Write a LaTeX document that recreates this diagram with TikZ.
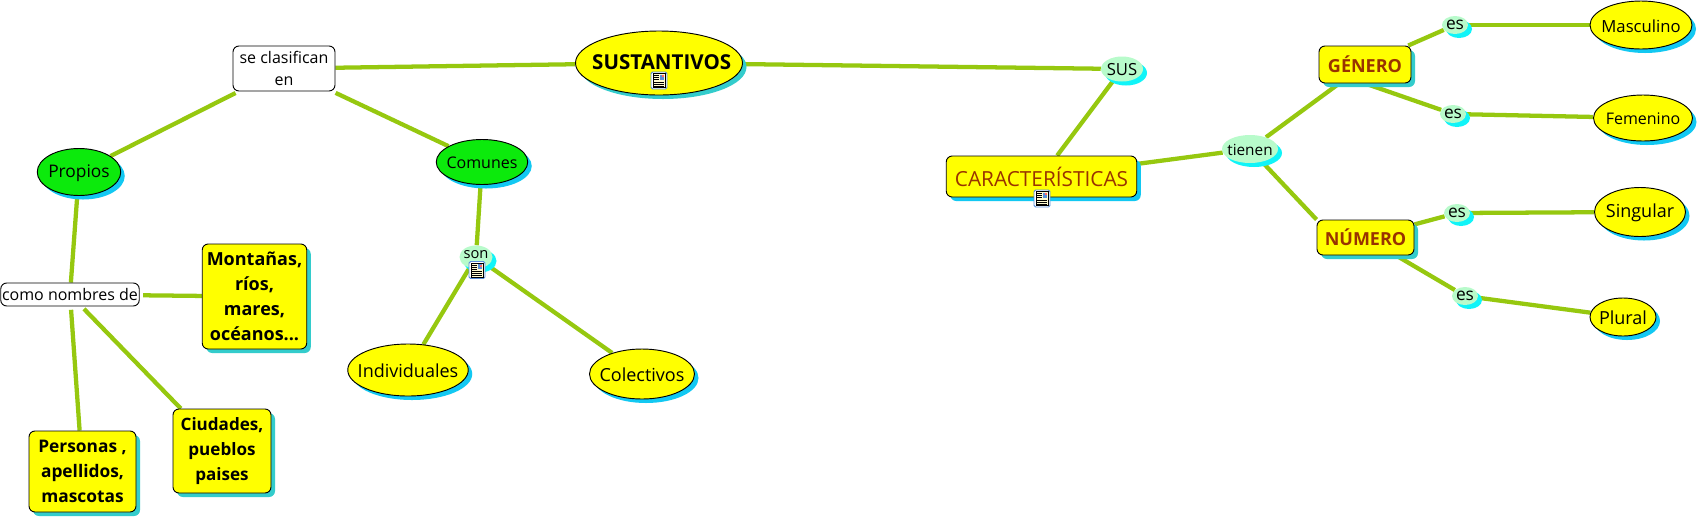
\documentclass[tikz,border=0pt]{standalone}
\usepackage{fontspec}
\setmainfont{Open Sans}
\usetikzlibrary{shapes.geometric,shadows}
\pgfdeclarelayer{bg}
\pgfsetlayers{bg,main}
\definecolor{linkgreen}{HTML}{96C80F}
\definecolor{conceptgreen}{HTML}{0CEA0C}
\definecolor{pureyellow}{HTML}{FFFF00}
\definecolor{linkerfill}{HTML}{B8FBCB}
\definecolor{shblue}{HTML}{12C8F2}
\definecolor{shteal}{HTML}{33CCCC}
\definecolor{shcyan}{HTML}{10F4F8}
\definecolor{brownish}{HTML}{993300}
\definecolor{iconblue}{HTML}{5A8FD8}
\definecolor{iconcream}{HTML}{FFFBD0}
\tikzset{
  sz/.style 2 args={minimum width=#1*0.75pt,minimum height=#2*0.75pt},
  shad/.style={general shadow={fill=#1,shadow xshift=3pt,shadow yshift=-3pt}},
  fs/.style={font=\fontsize{#1}{18.75}\selectfont},
  fsb/.style={font=\fontsize{#1}{18.75}\selectfont\bfseries},
  txt/.style={fs=13.5,inner sep=0pt,align=center},
  lab/.style={txt,yshift=-0.7pt},
  btxt/.style={fsb=13.5,inner sep=0pt,align=center},
  ell/.style={ellipse,draw=black,line width=0.7pt,inner sep=0pt,fill=pureyellow},
  linker/.style={ellipse,inner sep=0pt,fill=linkerfill,shad=shcyan},
  box/.style={rectangle,rounded corners=4.5pt,draw=black,line width=0.7pt,inner sep=0pt,fill=pureyellow},
  phrase/.style={rectangle,rounded corners=4.5pt,draw=black,line width=0.7pt,inner sep=0pt,fill=white,align=center,font=\fontsize{12}{16.5}\selectfont},
  conn/.style={draw=linkgreen,line width=3.2pt},
  gapstart/.style={shorten <=2.5pt},
  noteicon/.pic={
    \draw[draw=iconblue,fill=white,line width=0.7pt,rounded corners=1.2pt] (-8,-8.5) rectangle (8,8.5);
    \fill[iconcream] (-6,-7) rectangle (6,7);
    \draw[black,line width=0.4pt] (-6,-7) rectangle (6,7);
    \fill[iconblue] (0.5,-6) rectangle (5,-1);
    \fill[red!60] (2.5,-5.5) rectangle (4.5,-3.5);
    \foreach \yy in {-5,-3,-1}{\draw[black,line width=0.5pt] (-5,\yy) -- (-0.5,\yy);}
    \foreach \yy in {1.5,3.5,5.5}{\draw[black,line width=0.5pt] (-5,\yy) -- (5,\yy);}
  }
}
\begin{document}
\begin{tikzpicture}[x=0.75pt,y=-0.75pt]
\begin{pgfonlayer}{bg}
\fill[white] (0,0) rectangle (1699,519);
\end{pgfonlayer}
\useasboundingbox (0,0) rectangle (1699,519);
% main concept
\node[ell,sz={167}{64},shad=shteal,label={[btxt,fsb=15.4,xshift=2pt,yshift=0.7pt]center:SUSTANTIVOS}] (sust) at (659,63) {};
% left branch
\node[phrase,sz={102}{45}] (clas) at (284,68.5) {se clasifican\\en};
\node[ell,fill=conceptgreen,sz={83.5}{47},shad=shblue,label={[lab,fs=13]center:Propios}] (prop) at (79,172) {};
\node[ell,fill=conceptgreen,sz={91.5}{45},shad=shblue,label={[lab,fs=12]center:Comunes}] (comu) at (482,162) {};
\node[phrase,sz={138.5}{23}] (como) at (70,294.5) {como nombres de};
\node[box,sz={104.5}{105},shad=shteal,btxt] (mont) at (254.5,296.5) {Montañas,\\ríos,\\mares,\\océanos...};
\node[box,sz={98}{84},shad=shteal,btxt,fsb=12.8] (ciud) at (222,451) {Ciudades,\\pueblos\\paises};
\node[box,sz={107}{81},shad=shteal,btxt,fsb=13] (pers) at (82.5,471.5) {Personas ,\\apellidos,\\mascotas};
\node[linker,sz={33}{23},label={[txt,fs=11,yshift=2pt]center:son}] (son) at (476,257) {};
\node[ell,sz={120.5}{52},shad=shblue,label={[lab]center:Individuales}] (indi) at (408,370) {};
\node[ell,sz={105}{50},shad=shblue,label={[lab]center:Colectivos}] (cole) at (642,374) {};
% right branch
\node[linker,sz={42}{25},label={[lab,fs=12.5]center:SUS}] (sus) at (1122,69) {};
\node[box,sz={190.5}{41},shad=shblue,txt,fs=15.6,text=brownish] (cara) at (1041.5,176.5) {\raisebox{-1pt}{CARACTERÍSTICAS}};
\node[linker,sz={56}{28},label={[lab,fs=11.5]center:tienen}] (tien) at (1250,149) {};
\node[box,sz={92}{37},shad=shteal,btxt,text=brownish] (gene) at (1365,64.5) {\raisebox{-1.5pt}{GÉNERO}};
\node[box,sz={97}{35},shad=shteal,btxt,text=brownish] (nume) at (1365.5,237.5) {\raisebox{-1.5pt}{NÚMERO}};
\node[linker,sz={26}{18},label={[txt,fs=13]center:es}] (esa) at (1455,25) {};
\node[linker,sz={26}{18},label={[txt,fs=13]center:es}] (esb) at (1453,114) {};
\node[linker,sz={26}{18},label={[txt,fs=13]center:es}] (esc) at (1457,213) {};
\node[linker,sz={26}{18},label={[txt,fs=13]center:es}] (esd) at (1465,296) {};
\node[ell,sz={102}{48},shad=shblue,label={[lab,fs=12.5]center:Masculino}] (masc) at (1641,25) {};
\node[ell,sz={99}{46},shad=shblue,label={[lab,fs=12]center:Femenino}] (feme) at (1643,118) {};
\node[ell,sz={91}{49},shad=shblue,label={[lab]center:Singular}] (sing) at (1640,212) {};
\node[ell,sz={66}{38},shad=shblue,label={[lab]center:Plural}] (plur) at (1623,317) {};
% note icons
\path (659,80.5) pic {noteicon};
\path (1042,198.5) pic {noteicon};
\path (477,270) pic {noteicon};
% connectors
\begin{pgfonlayer}{bg}
\draw[conn] (sust) -- (clas);
\draw[conn] (sust) -- (sus);
\draw[conn,gapstart] (clas) -- (prop);
\draw[conn,gapstart] (clas) -- (comu);
\draw[conn] (prop) -- (como);
\draw[conn,gapstart] (como) -- (mont);
\draw[conn,gapstart] (como) -- (ciud);
\draw[conn,gapstart] (como) -- (pers);
\draw[conn] (comu) -- (son);
\draw[conn] (son) -- (indi);
\draw[conn] (son) -- (cole);
\draw[conn] (sus) -- (cara);
\draw[conn] (cara) -- (tien);
\draw[conn] (tien) -- (gene);
\draw[conn] (tien) -- (nume.north west);
\draw[conn] (gene) -- (esa);
\draw[conn] (esa) -- (masc);
\draw[conn] (gene.south) -- (esb);
\draw[conn] (esb) -- (feme);
\draw[conn] (nume) -- (esc);
\draw[conn] (esc) -- (sing);
\draw[conn] (nume) -- (esd);
\draw[conn] (esd) -- (plur);
\end{pgfonlayer}
\end{tikzpicture}
\end{document}
